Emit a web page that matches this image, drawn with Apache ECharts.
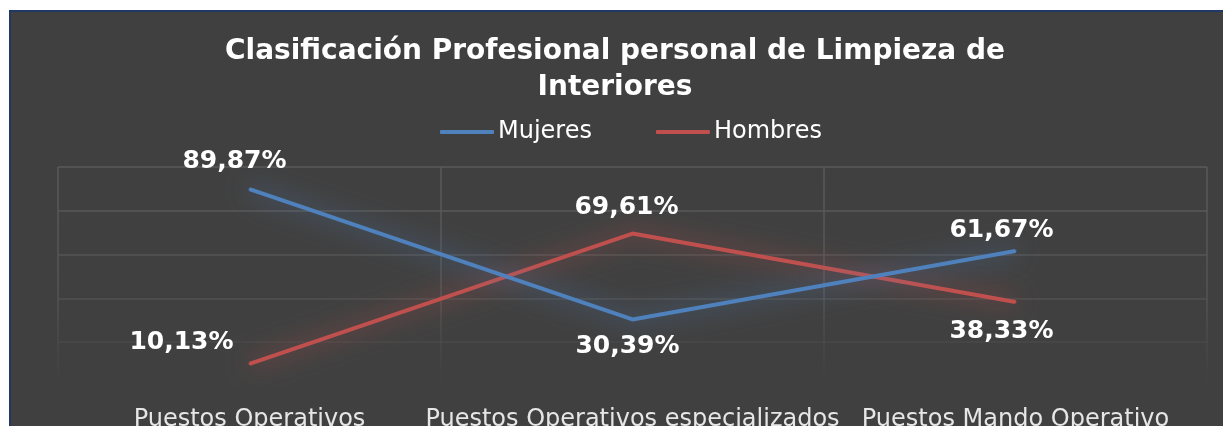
<!DOCTYPE html>
<html>
<head>
<meta charset="utf-8">
<script src="https://cdn.jsdelivr.net/npm/echarts@6/dist/echarts.min.js"></script>
<style>
  html, body { margin: 0; padding: 0; background: #fff; overflow: hidden; width: 1223px; height: 426px; }
  #frame { position: absolute; left: 9px; top: 10px; width: 1240px; height: 440px; background: #404040; border: 2px solid #1F3864; }
  #chart { position: absolute; left: 0; top: 0; width: 1208px; height: 430px; }
</style>
</head>
<body>
<div id="frame"><div id="chart"></div></div>
<script>
var categories = ['Puestos Operativos', 'Puestos Operativos especializados', 'Puestos Mando Operativo'];
var mujeres = [89.87, 30.39, 61.67];
var hombres = [10.13, 69.61, 38.33];
var mujeresOffsets = [[-15, -28], [-5, 27], [-14, -20]];
var hombresOffsets = [[-68, -21], [-6, -26], [-14, 29]];

function withLabels(values, offsets) {
  return values.map(function (v, i) {
    return { value: v, label: { offset: offsets[i] } };
  });
}

var chart = echarts.init(document.getElementById('chart'));

var labelStyle = {
  show: true,
  position: 'inside',
  color: '#ffffff',
  fontFamily: 'DejaVu Sans',
  fontWeight: 'bold',
  fontSize: 25,
  formatter: function (p) { return p.value.toFixed(2).replace('.', ',') + '%'; }
};

chart.setOption({
  backgroundColor: '#404040',
  animation: false,
  title: {
    text: 'Clasificación Profesional personal de Limpieza de\nInteriores',
    left: 'center',
    top: 17,
    textStyle: {
      color: '#ffffff',
      fontFamily: 'DejaVu Sans',
      fontWeight: 'bold',
      fontSize: 28,
      lineHeight: 36
    }
  },
  legend: {
    left: 424,
    top: 103,
    itemWidth: 54,
    itemHeight: 4,
    itemGap: 64,
    icon: 'roundRect',
    textStyle: { color: '#ffffff', fontFamily: 'DejaVu Sans', fontSize: 24, padding: [0, 0, 0, -1] },
    data: ['Mujeres', 'Hombres']
  },
  grid: { left: 47, top: 155, width: 1149, height: 219 },
  xAxis: {
    type: 'category',
    data: categories,
    boundaryGap: true,
    axisLine: { show: false },
    axisTick: { show: false },
    axisLabel: { color: '#e6e6e6', fontFamily: 'DejaVu Sans', fontSize: 24, margin: 22, interval: 0 },
    splitLine: {
      show: true,
      interval: 0,
      lineStyle: {
        width: 1.5,
        color: {
          type: 'linear', x: 0, y: 155, x2: 0, y2: 374, global: true,
          colorStops: [
            { offset: 0, color: '#5a5a5a' },
            { offset: 0.6, color: '#535353' },
            { offset: 1, color: 'rgba(80,80,80,0)' }
          ]
        }
      }
    }
  },
  yAxis: {
    type: 'value',
    min: 0,
    max: 100,
    interval: 20,
    axisLabel: { show: false },
    axisLine: { show: false },
    axisTick: { show: false },
    splitLine: {
      show: true,
      lineStyle: {
        width: 1.5,
        color: ['rgba(0,0,0,0)', '#484848', '#505050', '#555555', '#585858', '#5a5a5a']
      }
    }
  },
  series: [
    {
      name: 'Mujeres',
      type: 'line',
      data: withLabels(mujeres, mujeresOffsets),
      symbol: 'circle',
      symbolSize: 2,
      showSymbol: true,
      color: '#4F81BD',
      lineStyle: { width: 4, color: '#4F81BD', shadowBlur: 24, shadowColor: 'rgba(79,129,189,0.95)' },
      label: labelStyle,
      z: 3
    },
    {
      name: 'Hombres',
      type: 'line',
      data: withLabels(hombres, hombresOffsets),
      symbol: 'circle',
      symbolSize: 2,
      showSymbol: true,
      color: '#C0504D',
      lineStyle: { width: 4, color: '#C0504D', shadowBlur: 24, shadowColor: 'rgba(192,80,77,0.95)' },
      label: labelStyle,
      z: 2
    }
  ]
});
</script>
</body>
</html>
